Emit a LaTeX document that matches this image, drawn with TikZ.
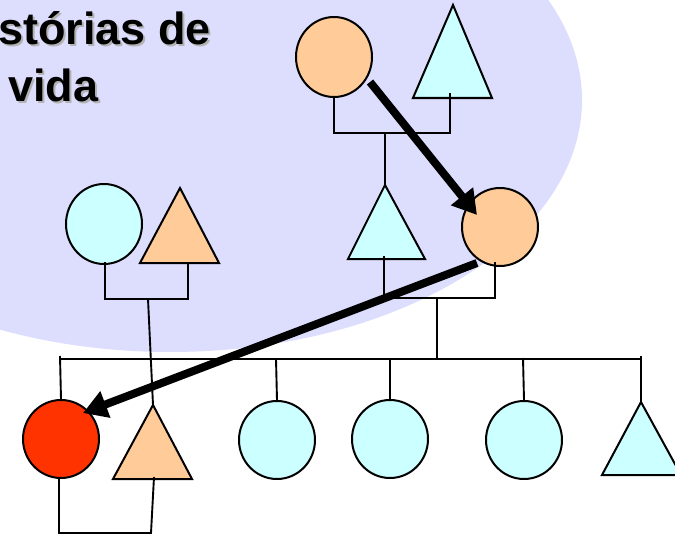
\documentclass[tikz,border=0pt]{standalone}
\usepackage{fontspec}
\setmainfont{Liberation Sans}
\usetikzlibrary{shapes.geometric,arrows.meta}
\definecolor{lav}{HTML}{DDDDFD}
\definecolor{peach}{HTML}{FFCC99}
\definecolor{aqua}{HTML}{CCFFFF}
\definecolor{redp}{HTML}{FF3300}
\begin{document}
\begin{tikzpicture}[x=1pt,y=-1pt,
  circ/.style={ellipse, draw=black, line width=2pt, inner sep=0pt, minimum width=76pt, minimum height=78pt},
  tri/.style={draw=black, line width=2pt, line join=miter},
  link/.style={draw=black, line width=1.9pt},
  bigarrow/.style={line width=8pt, -{Triangle[length=24pt,width=27pt]}},
  titlefont/.style={anchor=base west, inner sep=0pt, font=\fontsize{45}{52}\selectfont\bfseries}
]
\useasboundingbox (0,0) rectangle (675,535);
\begin{scope}
  \clip (0,0) rectangle (675,535);
  \fill[lav] (170,100) ellipse [x radius=412pt, y radius=252pt];
\end{scope}

% title (cropped in the original), with its drop shadow
\node[titlefont, text=gray!60] (t1s) at (0,47) {stórias de};
\node[titlefont, text=gray!60] (t2s) at (10,103) {vida};
\node[titlefont] (t1) at (-2,45) {stórias de};
\node[titlefont] (t2) at (8,101) {vida};

% generation 1
\node[circ, fill=peach, minimum height=80pt] (A) at (334,57) {};
\filldraw[tri, fill=aqua] (453,5) coordinate (B) -- (413,98) -- (492,98) -- cycle;
\coordinate (Bb) at (450,93);

% generation 2
\filldraw[tri, fill=aqua] (385,185) coordinate (C) -- (348,259) -- (425,259) -- cycle;
\coordinate (Cb) at (384,256);
\node[circ, fill=peach] (D) at (500,227) {};
\coordinate (Db) at (495,262);
\node[circ, fill=aqua, minimum height=80pt] (E) at (104,224) {};
\coordinate (Eb) at (105,262);
\filldraw[tri, fill=peach] (180,188) coordinate (F) -- (140,263) -- (219,263) -- cycle;
\coordinate (Fb) at (188,263);

% generation 3
\node[circ, fill=redp] (G) at (61,439) {};
\coordinate (Gb) at (59,478);
\filldraw[tri, fill=peach] (153,405) coordinate (H) -- (113,479) -- (192,479) -- cycle;
\coordinate (Hb) at (154,477);
\node[circ, fill=aqua] (I) at (277,440) {};
\node[circ, fill=aqua] (J) at (390,439) {};
\node[circ, fill=aqua] (K) at (524,440) {};
\filldraw[tri, fill=aqua] (641,402) coordinate (L) -- (602,475) -- (681,475) -- cycle;

% junction points
\coordinate (m1L) at (334,133);
\coordinate (m1R) at (450,133);
\coordinate (m1) at (385,133);
\coordinate (m2L) at (384,298);
\coordinate (m2R) at (495,298);
\coordinate (m2) at (437,298);
\coordinate (m3L) at (105,299);
\coordinate (m3R) at (188,299);
\coordinate (m3) at (148,299);
\coordinate (sib) at (437,359);
\coordinate (sL) at (60,359);
\coordinate (sR) at (641,359);
\coordinate (m4L) at (59,533);
\coordinate (m4R) at (151,533);

% connectors
\draw[link] (A.south) -- (m1L) -- (m1R) -- (Bb);
\draw[link] (m1) -- (C);
\draw[link] (Cb) -- (m2L) -- (m2R) -- (Db);
\draw[link] (m2) -- (sib);
\draw[link] (Eb) -- (m3L) -- (m3R) -- (Fb);
\draw[link] (m3) -- (H);
\draw[link] (sL) -- (sR);
\draw[link] (60,356) -- (G.north);
\draw[link] (641,356) -- (L);
\draw[link] (276,359) -- (I.north);
\draw[link] (390,358) -- (J.north);
\draw[link] (523,358) -- (K.north);
\draw[link] (Gb) -- (m4L) -- (m4R) -- (Hb);

% arrows
\coordinate (a1s) at (370,82);
\coordinate (a1e) at (477,215);
\coordinate (a2s) at (477,263);
\coordinate (a2e) at (83,413);
\draw[bigarrow] (a1s) -- (a1e);
\draw[bigarrow] (a2s) -- (a2e);
\end{tikzpicture}
\end{document}
